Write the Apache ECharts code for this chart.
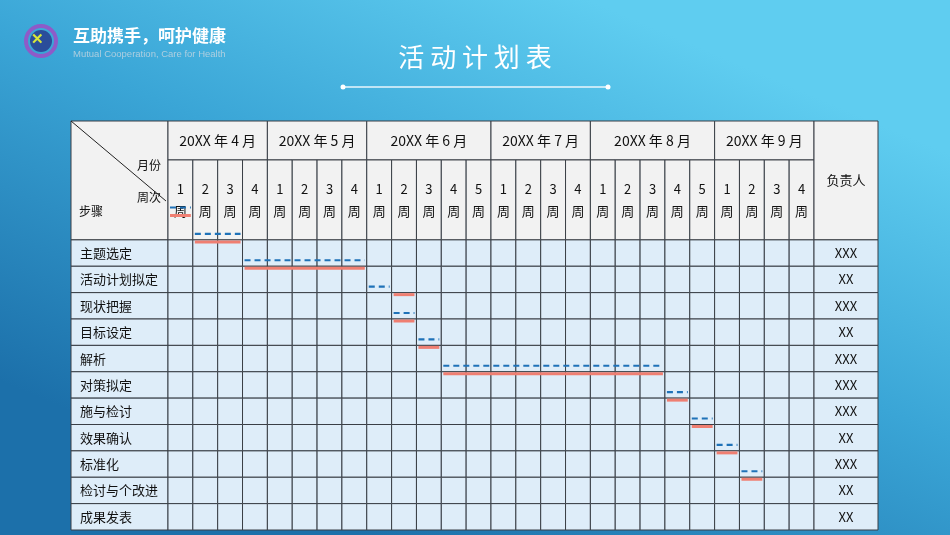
<!DOCTYPE html>
<html><head><meta charset="utf-8">
<script src="https://cdn.jsdelivr.net/npm/echarts@6/dist/echarts.min.js"></script>
<style>html,body{margin:0;padding:0;}#c{width:950px;height:535px;}</style>
</head><body><div id="c"></div>
<script>
const months = ['20XX 年 4 月','20XX 年 5 月','20XX 年 6 月','20XX 年 7 月','20XX 年 8 月','20XX 年 9 月'];
const monthWeeks = [4,4,5,4,5,4];
const steps = ['主题选定','活动计划拟定','现状把握','目标设定','解析','对策拟定','施与检讨','效果确认','标准化','检讨与个改进','成果发表'];
const owners = ['XXX','XX','XXX','XX','XXX','XXX','XXX','XX','XXX','XX','XX'];
const planStart = [0,1,3,8,9,10,11,20,21,22,23];
const planEnd   = [1,3,8,9,10,11,20,21,22,23,24];
const actStart  = [0,1,3,9,9,10,11,20,21,22,23];
const actEnd    = [1,3,8,10,10,11,20,21,22,23,24];

const W = 24.85;
const LABW = 97/W, RESPW = 64/W, NW = 26;
const HM = 39, HW = 80, RH = 26.4;
const HTOP = HM + HW;

const cells = [];
cells.push({x0:-LABW,x1:0,y0:0,y1:HTOP,fill:'#f2f2f2',text:''});
let w0 = 0;
months.forEach((m,i)=>{cells.push({x0:w0,x1:w0+monthWeeks[i],y0:0,y1:HM,fill:'#f2f2f2',text:m,fs:14});
  for(let k=0;k<monthWeeks[i];k++){cells.push({x0:w0+k,x1:w0+k+1,y0:HM,y1:HTOP,fill:'#f2f2f2',text:(k+1)+'\n周',fs:13,lh:22});}
  w0+=monthWeeks[i];});
cells.push({x0:NW,x1:NW+RESPW,y0:0,y1:HTOP,fill:'#f2f2f2',text:'负责人',fs:13});
steps.forEach((s,r)=>{const y0=HTOP+r*RH,y1=y0+RH;
  cells.push({x0:-LABW,x1:0,y0,y1,fill:'#deedf9',text:s,fs:13,align:'left'});
  for(let k=0;k<NW;k++)cells.push({x0:k,x1:k+1,y0,y1,fill:'#deedf9',text:''});
  cells.push({x0:NW,x1:NW+RESPW,y0,y1,fill:'#deedf9',text:owners[r],fs:13});});

const bars = [];
steps.forEach((s,k)=>{const b = HTOP + RH*(k-1);
  bars.push({x0:planStart[k],x1:planEnd[k],y:b-6,dash:true});
  bars.push({x0:actStart[k],x1:actEnd[k],y:b+2,dash:false});});

const chart = echarts.init(document.getElementById('c'));
chart.setOption({
  animation:false,
  backgroundColor:{type:'linear',x:0.62,y:0,x2:0.38,y2:1,colorStops:[{offset:0,color:'#5fcdf0'},{offset:0.45,color:'#3aa5d6'},{offset:1,color:'#1c70aa'}]},
  grid:{left:71,top:121,width:807,height:409},
  xAxis:{type:'value',min:-LABW,max:NW+RESPW,show:false},
  yAxis:{type:'value',min:0,max:HTOP+11*RH,inverse:true,show:false},
  title:{text:'活 动 计 划 表',left:'center',top:39,textStyle:{color:'#fff',fontSize:26,fontWeight:'normal',fontFamily:'Noto Sans CJK SC'}},
  graphic:[
    {type:'line',shape:{x1:343,y1:87,x2:608,y2:87},style:{stroke:'#e8f6fc',lineWidth:1.5}},
    {type:'circle',shape:{cx:343,cy:87,r:2.5},style:{fill:'#fff'}},
    {type:'circle',shape:{cx:608,cy:87,r:2.5},style:{fill:'#fff'}},
    {type:'circle',shape:{cx:41,cy:41,r:15},style:{fill:'none',stroke:'#8e5bc8',lineWidth:4}},
    {type:'circle',shape:{cx:41,cy:41,r:11},style:{fill:'#2a4d9a'}},
    {type:'text',left:31,top:32,style:{text:'✕',fill:'#d8e83a',fontSize:15,fontWeight:'bold'}},
    {type:'text',left:73,top:27,style:{text:'互助携手，呵护健康',fill:'#fff',fontSize:17,fontWeight:'bold',fontFamily:'Noto Sans CJK SC'}},
    {type:'text',left:73,top:49,style:{text:'Mutual Cooperation, Care for Health',fill:'rgba(200,215,225,0.8)',fontSize:9.5}}
  ],
  series:[
    {type:'custom',data:cells.map((c,i)=>i),clip:false,renderItem:(p,api)=>{
      const c=cells[p.dataIndex];const a=api.coord([c.x0,c.y0]),b=api.coord([c.x1,c.y1]);
      const ch=[{type:'rect',shape:{x:a[0],y:a[1],width:b[0]-a[0],height:b[1]-a[1]},style:{fill:c.fill,stroke:'#3a3f46',lineWidth:1}}];
      if(c.text){ch.push({type:'text',style:{text:c.text,x:c.align==='left'?a[0]+9:(a[0]+b[0])/2,y:(a[1]+b[1])/2,align:c.align||'center',verticalAlign:'middle',fontSize:c.fs,lineHeight:c.lh||c.fs+4,fill:'#111',fontFamily:'Noto Sans CJK SC'}});}
      return {type:'group',children:ch};}},
    {type:'custom',data:[0],clip:false,renderItem:(p,api)=>{
      const a=api.coord([-LABW,0]),b=api.coord([0,HTOP]);
      const lab=(t,x,y)=>({type:'text',style:{text:t,x,y,fontSize:12,fill:'#111',fontFamily:'Noto Sans CJK SC',align:'left',verticalAlign:'middle'}});
      return {type:'group',children:[
        {type:'line',shape:{x1:a[0],y1:a[1],x2:a[0]+95,y2:a[1]+80},style:{stroke:'#222',lineWidth:1}},
        lab('月份',a[0]+66,a[1]+44),lab('周次',a[0]+66,a[1]+76),lab('步骤',a[0]+8,a[1]+90)]};}},
    {type:'custom',data:bars.map((b,i)=>i),clip:false,z:5,renderItem:(p,api)=>{
      const b=bars[p.dataIndex];const a=api.coord([b.x0,b.y]),e=api.coord([b.x1,b.y]);
      return {type:'line',shape:{x1:a[0]+2,y1:a[1],x2:e[0]-2,y2:e[1]},
        style:b.dash?{stroke:'#1f72b8',lineWidth:2.2,lineDash:[6,4]}:{stroke:'#ef7f72',lineWidth:3}};}}
  ]
});
</script></body></html>
